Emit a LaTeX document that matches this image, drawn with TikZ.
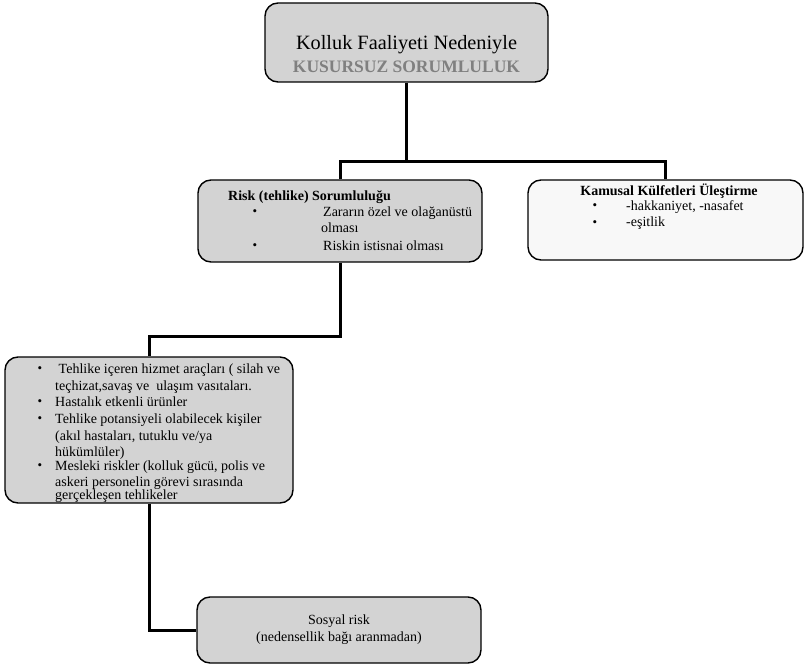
\documentclass[tikz,border=0pt]{standalone}
\usepackage{fontspec}
\setmainfont{Liberation Serif}
\definecolor{boxgray}{RGB}{211,211,211}
\definecolor{boxlight}{RGB}{248,248,248}
\definecolor{titlegray}{RGB}{128,128,128}
\begin{document}
\begin{tikzpicture}[x=1pt,y=-1pt,
  box/.style={draw=black, line width=1.4pt, rounded corners=13pt, fill=boxgray, inner sep=0pt},
  conn/.style={draw=black, line width=3pt},
  txt/.style={anchor=base west, inner sep=0pt, font=\fontsize{14}{16}\selectfont},
  ctxt/.style={anchor=base, inner sep=0pt, font=\fontsize{14}{16}\selectfont},
  bul/.style={anchor=base, inner sep=0pt, font=\fontsize{13}{15}\selectfont}
]
\useasboundingbox (0,0) rectangle (805,668);
% boxes
\node[box, minimum width=283pt, minimum height=79pt] (top) at (406.5,42.5) {};
\node[box, minimum width=284pt, minimum height=82pt] (risk) at (340,221) {};
\node[box, fill=boxlight, minimum width=275pt, minimum height=80pt] (kam) at (665.5,220) {};
\node[box, minimum width=288pt, minimum height=146pt] (b3) at (149,430) {};
\node[box, minimum width=284pt, minimum height=66pt] (b4) at (339,630) {};
% connectors
\coordinate (j1) at (406.5,162);
\draw[conn] (top.south) -- (j1);
\draw[conn] (risk.north) |- (j1) -| (kam.north);
\coordinate (j2) at (340,336);
\draw[conn] (risk.south) -- (j2) -| (b3.north);
\draw[conn] (b3.south) |- (b4.west);
% top texts
\node[anchor=base, inner sep=0pt, font=\fontsize{20.3}{22}\selectfont] (t1) at (406.5,50) {Kolluk Faaliyeti Nedeniyle};
\node[anchor=base, inner sep=0pt, text=titlegray, font=\fontsize{17.5}{20}\selectfont\bfseries] (t2) at (406.5,73) {KUSURSUZ SORUMLULUK};
% risk texts
\node[txt, font=\fontsize{14}{16}\selectfont\bfseries] (r0) at (228,201) {Risk (tehlike) Sorumluluğu};
\node[bul] (rb1) at (255,216) {•};
\node[txt] (r1) at (323,217) {Zararın özel ve olağanüstü};
\node[txt] (r2) at (321,233) {olması};
\node[bul] (rb2) at (255,250) {•};
\node[txt] (r3) at (323,251) {Riskin istisnai olması};
% kamusal texts
\node[ctxt, font=\fontsize{14}{16}\selectfont\bfseries] (k0) at (669,196) {Kamusal Külfetleri Üleştirme};
\node[bul] (kb1) at (595,210) {•};
\node[txt] (k1) at (626,211) {-hakkaniyet, -nasafet};
\node[bul] (kb2) at (595,226) {•};
\node[txt] (k2) at (626,227) {-eşitlik};
% box 3 texts
\node[bul] (bb1) at (40,372) {•};
\node[txt] (b31) at (55,373) {~Tehlike içeren hizmet araçları ( silah ve};
\node[txt] (b32) at (55,390) {teçhizat,savaş ve\ \ ulaşım vasıtaları.};
\node[bul] (bb2) at (40,405) {•};
\node[txt] (b33) at (55,406) {Hastalık etkenli ürünler};
\node[bul] (bb3) at (40,422) {•};
\node[txt] (b34) at (55,423) {Tehlike potansiyeli olabilecek kişiler};
\node[txt] (b35) at (55,440) {(akıl hastaları, tutuklu ve/ya};
\node[txt] (b36) at (55,456) {hükümlüler)};
\node[bul] (bb4) at (40,469) {•};
\node[txt] (b37) at (55,470) {Mesleki riskler (kolluk gücü, polis ve};
\node[txt] (b38) at (55,486) {askeri personelin görevi sırasında};
\node[txt] (b39) at (55,499) {gerçekleşen tehlikeler};
% box 4 texts
\node[ctxt] (s1) at (339,624) {Sosyal risk};
\node[ctxt] (s2) at (339,641) {(nedensellik bağı aranmadan)};
\end{tikzpicture}
\end{document}
